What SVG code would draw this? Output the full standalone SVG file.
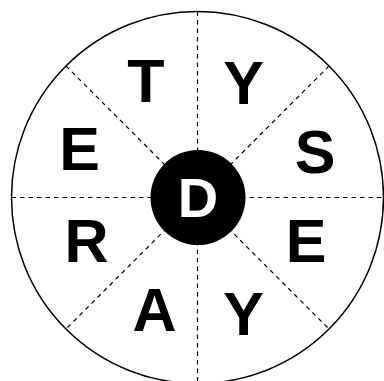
<svg xmlns="http://www.w3.org/2000/svg" width="384" height="381" viewBox="0 0 384 381">
<style>
.ring{fill:#fff;stroke:#000;stroke-width:1.5}
.div{stroke:#000;stroke-width:1.2;stroke-dasharray:4.5 4;fill:none}
.ltr{font-family:"Liberation Sans",Arial,sans-serif;font-weight:bold;font-size:61px;fill:#000;text-anchor:middle}
.hub{fill:#000}
.hubt{font-family:"Liberation Sans",Arial,sans-serif;font-weight:bold;font-size:56px;fill:#fff;text-anchor:middle}
</style>
<rect width="384" height="381" fill="#fff"/>
<g id="ring"><circle class="ring" cx="197.5" cy="197.5" r="186"/></g>
<g id="connectors">
<line class="div" x1="197.5" y1="11.5" x2="197.5" y2="383.5"/>
<line class="div" x1="11.5" y1="197.5" x2="383.5" y2="197.5"/>
<line class="div" x1="65.9" y1="65.9" x2="329.1" y2="329.1"/>
<line class="div" x1="329.1" y1="65.9" x2="65.9" y2="329.1"/>
</g>
<g id="hub"><circle class="hub" cx="198" cy="197.5" r="47.5"/><text class="hubt" x="198" y="217">D</text></g>
<g id="n-T"><text class="ltr" x="146" y="102">T</text></g>
<g id="n-Y1"><text class="ltr" x="243.5" y="104">Y</text></g>
<g id="n-S"><text class="ltr" x="315" y="173">S</text></g>
<g id="n-E2"><text class="ltr" x="306" y="262">E</text></g>
<g id="n-Y2"><text class="ltr" x="243.5" y="335">Y</text></g>
<g id="n-A"><text class="ltr" x="154.5" y="331">A</text></g>
<g id="n-R"><text class="ltr" x="86.5" y="262">R</text></g>
<g id="n-E1"><text class="ltr" x="79.5" y="170">E</text></g>
</svg>
